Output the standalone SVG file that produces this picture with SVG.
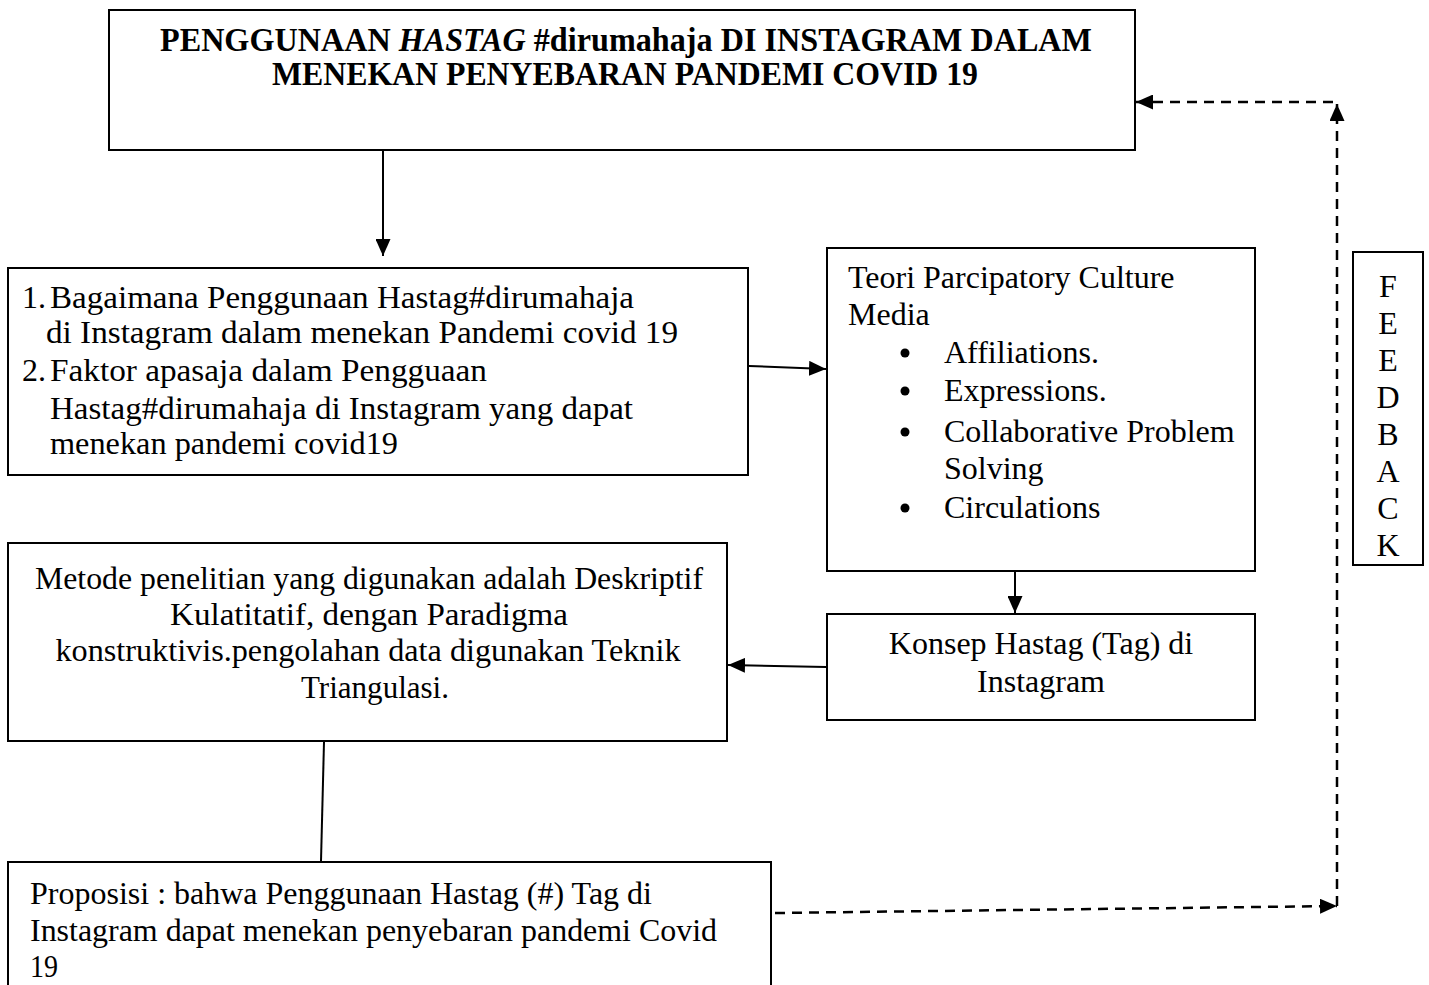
<svg xmlns="http://www.w3.org/2000/svg" width="1429" height="985" viewBox="0 0 1429 985">
<style>
.box{fill:#fff;stroke:#000;stroke-width:2}
.t{font-family:"Liberation Serif","Times New Roman",serif;font-size:32px;fill:#000}
.b{font-weight:bold;font-size:34px}
.c{text-anchor:middle}
.ln{stroke:#000;stroke-width:2;fill:none}
.ds{stroke:#000;stroke-width:2.5;fill:none;stroke-dasharray:10 7}
</style>
<defs>
<marker id="ah" markerWidth="17" markerHeight="15" refX="17" refY="7.5" orient="auto" markerUnits="userSpaceOnUse">
<path d="M0,0 L17,7.5 L0,15 Z" fill="#000"/>
</marker>
</defs>
<rect width="1429" height="985" fill="#fff"/>
<g id="title">
<rect class="box" x="109" y="10" width="1026" height="140"/>
<text class="t b" x="160" y="51" textLength="932" lengthAdjust="spacingAndGlyphs">PENGGUNAAN <tspan font-style="italic">HASTAG</tspan>  #dirumahaja DI INSTAGRAM DALAM</text>
<text class="t b" x="272" y="85" textLength="706" lengthAdjust="spacingAndGlyphs">MENEKAN PENYEBARAN PANDEMI COVID 19</text>
</g>
<g id="questions">
<rect class="box" x="8" y="268" width="740" height="207"/>
<text class="t" x="22" y="308">1.</text>
<text class="t" x="50" y="308" textLength="584" lengthAdjust="spacingAndGlyphs">Bagaimana Penggunaan Hastag#dirumahaja</text>
<text class="t" x="46" y="343" textLength="632" lengthAdjust="spacingAndGlyphs">di Instagram dalam menekan Pandemi covid 19</text>
<text class="t" x="22" y="381">2.</text>
<text class="t" x="50" y="381" textLength="437" lengthAdjust="spacingAndGlyphs">Faktor apasaja dalam Pengguaan</text>
<text class="t" x="50" y="419" textLength="583" lengthAdjust="spacingAndGlyphs">Hastag#dirumahaja di Instagram yang dapat</text>
<text class="t" x="50" y="454" textLength="348" lengthAdjust="spacingAndGlyphs">menekan pandemi covid19</text>
</g>
<g id="teori">
<rect class="box" x="827" y="248" width="428" height="323"/>
<text class="t" x="848" y="288">Teori Parcipatory Culture</text>
<text class="t" x="848" y="325">Media</text>
<circle cx="905" cy="353" r="4.5"/>
<text class="t" x="944" y="363">Affiliations.</text>
<circle cx="905" cy="391" r="4.5"/>
<text class="t" x="944" y="401">Expressions.</text>
<circle cx="905" cy="432" r="4.5"/>
<text class="t" x="944" y="442">Collaborative Problem</text>
<text class="t" x="944" y="479">Solving</text>
<circle cx="905" cy="508" r="4.5"/>
<text class="t" x="944" y="518">Circulations</text>
</g>
<g id="konsep">
<rect class="box" x="827" y="614" width="428" height="106"/>
<text class="t c" x="1041" y="654">Konsep Hastag (Tag) di</text>
<text class="t c" x="1041" y="692">Instagram</text>
</g>
<g id="metode">
<rect class="box" x="8" y="543" width="719" height="198"/>
<text class="t c" x="369" y="589" textLength="668" lengthAdjust="spacingAndGlyphs">Metode penelitian yang digunakan adalah Deskriptif</text>
<text class="t c" x="369" y="625" textLength="398" lengthAdjust="spacingAndGlyphs">Kulatitatif, dengan Paradigma</text>
<text class="t c" x="368" y="661" textLength="625" lengthAdjust="spacingAndGlyphs">konstruktivis.pengolahan data digunakan Teknik</text>
<text class="t c" x="375" y="698" textLength="148" lengthAdjust="spacingAndGlyphs">Triangulasi.</text>
</g>
<g id="proposisi">
<rect class="box" x="8" y="862" width="763" height="140"/>
<text class="t" x="30" y="904" textLength="622" lengthAdjust="spacingAndGlyphs">Proposisi : bahwa Penggunaan Hastag (#) Tag di</text>
<text class="t" x="30" y="941" textLength="687" lengthAdjust="spacingAndGlyphs">Instagram dapat menekan penyebaran pandemi Covid</text>
<text class="t" x="30" y="977" textLength="28" lengthAdjust="spacingAndGlyphs">19</text>
</g>
<g id="feedback">
<rect class="box" x="1353" y="252" width="70" height="313"/>
<text class="t c" x="1388" y="297" font-size="27">F</text>
<text class="t c" x="1388" y="334" font-size="27">E</text>
<text class="t c" x="1388" y="371" font-size="27">E</text>
<text class="t c" x="1388" y="408" font-size="27">D</text>
<text class="t c" x="1388" y="445" font-size="27">B</text>
<text class="t c" x="1388" y="482" font-size="27">A</text>
<text class="t c" x="1388" y="519" font-size="27">C</text>
<text class="t c" x="1388" y="556" font-size="27">K</text>
</g>
<g id="connectors">
<line class="ln" x1="383" y1="151" x2="383" y2="256" marker-end="url(#ah)"/>
<line class="ln" x1="749" y1="366" x2="826" y2="369" marker-end="url(#ah)"/>
<line class="ln" x1="1015" y1="572" x2="1015" y2="613" marker-end="url(#ah)"/>
<line class="ln" x1="826" y1="667" x2="728" y2="665" marker-end="url(#ah)"/>
<line class="ln" x1="324" y1="742" x2="321" y2="861"/>
<line class="ds" x1="775" y1="913" x2="1337" y2="906" marker-end="url(#ah)"/>
<line class="ds" x1="1337" y1="906" x2="1337" y2="104" marker-end="url(#ah)"/>
<line class="ds" x1="1333" y1="102" x2="1136" y2="102" marker-end="url(#ah)"/>
</g>
</svg>
